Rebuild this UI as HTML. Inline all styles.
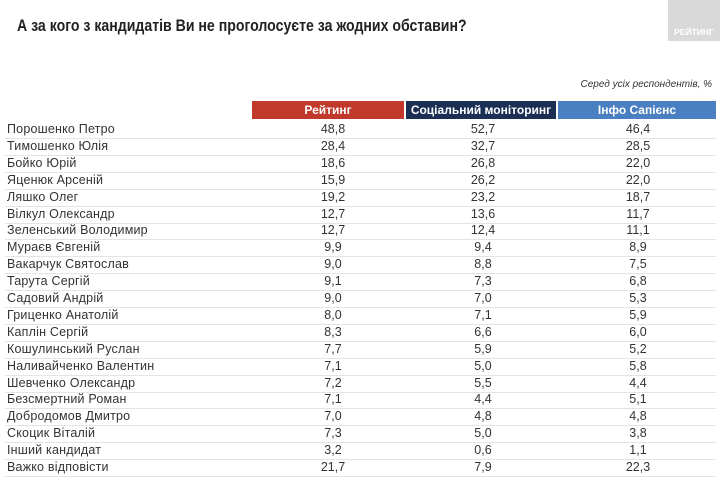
<!DOCTYPE html>
<html><head><meta charset="utf-8"><style>
body{margin:0;width:720px;height:480px;background:#fff;font-family:"Liberation Sans",sans-serif;position:relative;overflow:hidden}
.t{position:absolute;left:17px;top:17px;font-size:16.5px;font-weight:bold;color:#222;transform:scaleX(0.855);transform-origin:0 0;white-space:nowrap}
.logo{position:absolute;left:668px;top:0;width:52px;height:41px;background:#d9d9d9;color:#fff;font-size:8.5px;font-weight:bold;text-align:center;line-height:12px}
.logo span{position:absolute;bottom:3px;left:0;right:0}
.note{position:absolute;right:8px;top:79px;font-size:10px;font-style:italic;color:#333}
.h{position:absolute;top:101px;height:18px;line-height:18px;color:#fff;font-weight:bold;font-size:12px;text-align:center}
.row{position:absolute;left:5px;width:711px;height:17px;border-bottom:1px solid #e4e4e4;font-size:12.5px;color:#333;line-height:16px}
.row div{position:absolute;top:0}
.n{left:2px;letter-spacing:0.2px}
.c{text-align:center;width:150px}
</style></head><body>
<div class="t">А за кого з кандидатів Ви не проголосуєте за жодних обставин?</div>
<div class="logo"><span>РЕЙТИНГ</span></div>
<div class="note">Серед усіх респондентів, %</div>
<div class="h" style="left:252px;width:152px;background:#c0392b">Рейтинг</div>
<div class="h" style="left:406px;width:150px;background:#1b2f55">Соціальний моніторинг</div>
<div class="h" style="left:558px;width:158px;background:#4a7fc1">Інфо Сапієнс</div>
<div id="tbl"></div>
<script>
const names=["Порошенко Петро","Тимошенко Юлія","Бойко Юрій","Яценюк Арсеній","Ляшко Олег","Вілкул Олександр","Зеленський Володимир","Мураєв Євгеній","Вакарчук Святослав","Тарута Сергій","Садовий Андрій","Гриценко Анатолій","Каплін Сергій","Кошулинський Руслан","Наливайченко Валентин","Шевченко Олександр","Безсмертний Роман","Добродомов Дмитро","Скоцик Віталій","Інший кандидат","Важко відповісти"];
const rating=["48,8","28,4","18,6","15,9","19,2","12,7","12,7","9,9","9,0","9,1","9,0","8,0","8,3","7,7","7,1","7,2","7,1","7,0","7,3","3,2","21,7"];
const social=["52,7","32,7","26,8","26,2","23,2","13,6","12,4","9,4","8,8","7,3","7,0","7,1","6,6","5,9","5,0","5,5","4,4","4,8","5,0","0,6","7,9"];
const sapiens=["46,4","28,5","22,0","22,0","18,7","11,7","11,1","8,9","7,5","6,8","5,3","5,9","6,0","5,2","5,8","4,4","5,1","4,8","3,8","1,1","22,3"];
const tbl=document.getElementById('tbl');
names.forEach((n,i)=>{
 const r=document.createElement('div');r.className='row';r.style.top=(121+i*16.9)+'px';
 
 
 r.innerHTML='<div class="n">'+n+'</div><div class="c" style="left:253px">'+rating[i]+'</div><div class="c" style="left:403px">'+social[i]+'</div><div class="c" style="left:558px">'+sapiens[i]+'</div>';
 tbl.appendChild(r);
});
</script>
</body></html>
